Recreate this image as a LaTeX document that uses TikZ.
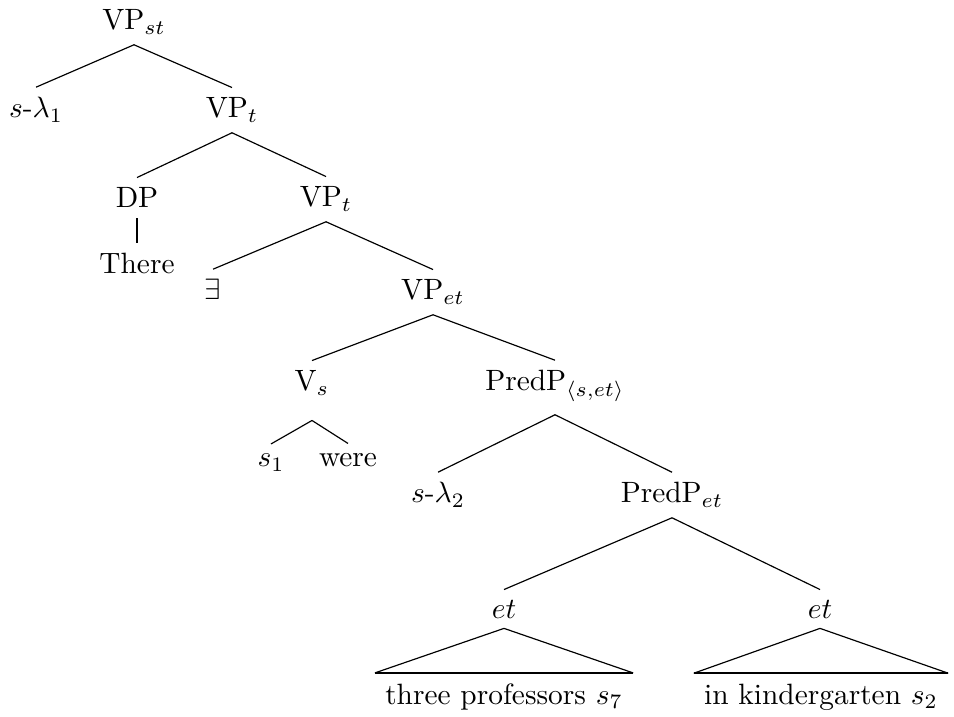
\documentclass[tikz,border=0pt]{standalone}
\begin{document}
\begin{tikzpicture}[x=0.3403pt,y=-0.3403pt,
  lab/.style={anchor=base},
  edge/.style={line width=0.4pt},
  thickedge/.style={line width=0.8pt}]
\useasboundingbox (0,0) rectangle (954,717);
% nodes
\node[lab] (vpst) at (134,30) {VP$_{st}$};
\node[lab] (sl1) at (36,118) {$s$-$\lambda_1$};
\node[lab] (vpt1) at (232,118) {VP$_t$};
\node[lab] (dp) at (137,208) {DP};
\node[lab] (vpt2) at (326,207) {VP$_t$};
\node[lab] (there) at (137,274) {There};
\node[lab] (ex) at (213,300) {$\exists$};
\node[lab] (vpet) at (433,300) {VP$_{et}$};
\node[lab] (vs) at (312,391) {V$_s$};
\node[lab] (predp) at (555,391) {PredP$_{\langle s,et\rangle}$};
\node[lab] (s1) at (271,467) {$s_1$};
\node[lab] (were) at (348,467) {were};
\node[lab] (sl2) at (438,503) {$s$-$\lambda_2$};
\node[lab] (predpet) at (672,503) {PredP$_{et}$};
\node[lab] (et1) at (504,618) {$et$};
\node[lab] (et2) at (820,618) {$et$};
\node[lab] (tp) at (504,704) {three professors $s_7$};
\node[lab] (ik) at (821,704) {in kindergarten $s_2$};
% edges
\draw[edge] (vpst.south) -- (sl1.north);
\draw[edge] (vpst.south) -- (vpt1.north);
\draw[edge] (vpt1.south) -- (dp.north);
\draw[edge] (vpt1.south) -- (vpt2.north);
\draw[thickedge] (dp.south) -- (there.north);
\draw[edge] (vpt2.south) -- (ex.north);
\draw[edge] (vpt2.south) -- (vpet.north);
\draw[edge] (vpet.south) -- (vs.north);
\draw[edge] (vpet.south) -- (predp.north);
\draw[edge] ([yshift=-5pt]vs.south) -- (s1.north);
\draw[edge] ([yshift=-5pt]vs.south) -- (were.north);
\draw[edge] ([yshift=-1pt]predp.south) -- (sl2.north);
\draw[edge] ([yshift=-1pt]predp.south) -- (predpet.north);
\draw[edge] (predpet.south) -- (et1.north);
\draw[edge] (predpet.south) -- (et2.north);
% triangles
\draw[edge] (tp.north west) -- (et1.south) -- (tp.north east);
\draw[thickedge] (tp.north west) -- (tp.north east);
\draw[edge] (ik.north west) -- (et2.south) -- (ik.north east);
\draw[thickedge] (ik.north west) -- (ik.north east);
\end{tikzpicture}
\end{document}
